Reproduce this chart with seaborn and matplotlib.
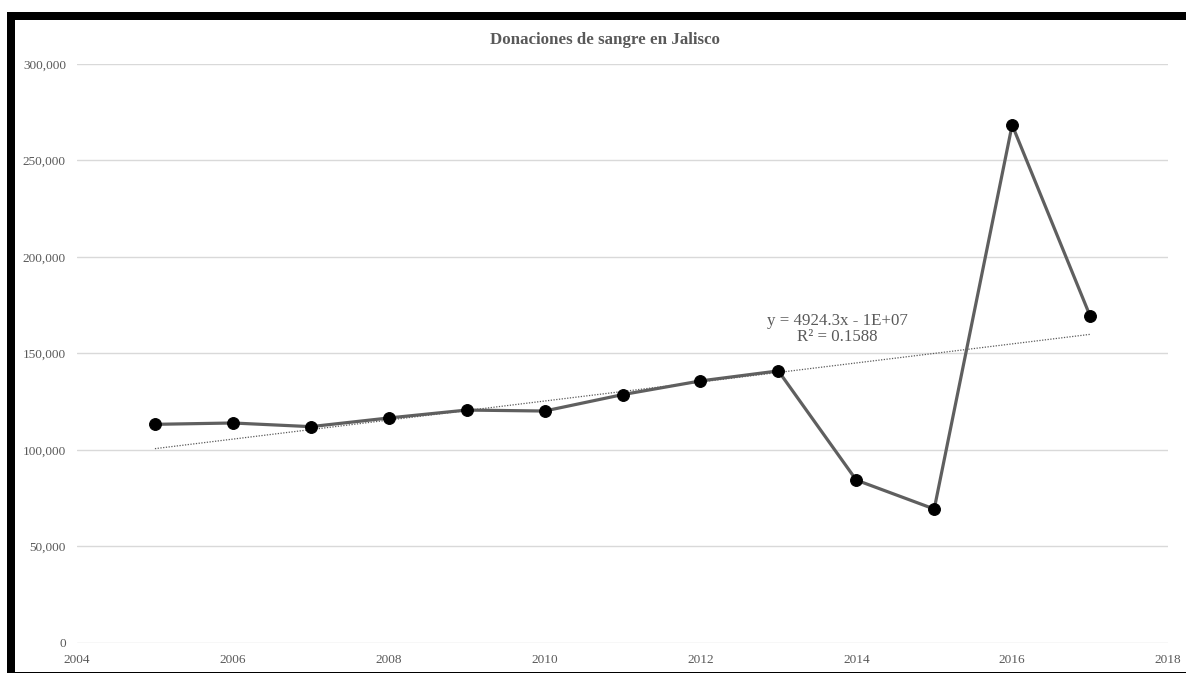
import matplotlib
matplotlib.use('Agg')
import matplotlib.pyplot as plt
import matplotlib.ticker as mticker
from matplotlib.patches import Rectangle
import pandas as pd
import seaborn as sns

# Donaciones de sangre en Jalisco, 2005-2017
years = [2005, 2006, 2007, 2008, 2009, 2010, 2011, 2012, 2013, 2014, 2015, 2016, 2017]
donations = [113200, 113900, 112000, 116500, 120600, 120100, 128600,
             135700, 140900, 84300, 69300, 268400, 169400]
x_ticks = [2004, 2006, 2008, 2010, 2012, 2014, 2016, 2018]
y_ticks = [0, 50000, 100000, 150000, 200000, 250000, 300000]

title = 'Donaciones de sangre en Jalisco'
trend_text = 'y = 4924.3x - 1E+07\nR² = 0.1588'

TEXT_GRAY = '#595959'
LINE_GRAY = '#5f5f5f'
GRID_GRAY = '#d9d9d9'

df = pd.DataFrame({'year': years, 'donations': donations})

sns.set_style('white')
plt.rcParams['font.family'] = ['Liberation Serif', 'DejaVu Serif']

W, H = 1186, 673
fig = plt.figure(figsize=(W / 100, H / 100), dpi=100)
ax = fig.add_axes([77 / W, 1 - 642.7 / H, 1091 / W, 578.7 / H])

# linear trendline (dotted)
sns.regplot(data=df, x='year', y='donations', ax=ax, scatter=False, ci=None,
            line_kws={'color': TEXT_GRAY, 'linestyle': (0, (1, 1.2)), 'linewidth': 0.9})

# main series
sns.lineplot(data=df, x='year', y='donations', ax=ax, color=LINE_GRAY, linewidth=2.3,
             marker='o', markersize=8.5, markerfacecolor='black', markeredgecolor='black')

ax.set_xlim(2004, 2018)
ax.set_ylim(0, 300000)
ax.set_xticks(x_ticks)
ax.set_yticks(y_ticks)
ax.yaxis.set_major_formatter(mticker.FuncFormatter(lambda v, p: f'{v:,.0f}'))
ax.grid(axis='y', color=GRID_GRAY, linewidth=1)
ax.grid(axis='x', visible=False)
ax.set_axisbelow(True)
for s in ax.spines.values():
    s.set_visible(False)
ax.tick_params(axis='both', length=0, labelsize=9.5, labelcolor=TEXT_GRAY)
ax.tick_params(axis='y', pad=8)
ax.tick_params(axis='x', pad=8)
ax.set_xlabel('')
ax.set_ylabel('')

ax.text(2013.76, 162600, trend_text, ha='center', va='center', fontsize=12.2,
        color=TEXT_GRAY, linespacing=1.05)

fig.text(605 / W, 1 - 40.5 / H, title, ha='center', va='center', fontsize=12.2,
         fontweight='bold', color=TEXT_GRAY)

# black frame from the screenshot
fig.patches.append(Rectangle((7 / W, 1 - 20 / H), 1 - 7 / W, 8 / H, transform=fig.transFigure,
                             facecolor='black', edgecolor='none', zorder=10))
fig.patches.append(Rectangle((7 / W, 0), 8 / W, 1 - 12 / H, transform=fig.transFigure,
                             facecolor='black', edgecolor='none', zorder=10))
fig.patches.append(Rectangle((15 / W, 0), 1 - 15 / W, 1.5 / H, transform=fig.transFigure,
                             facecolor='black', edgecolor='none', zorder=10))

fig.savefig('out.png', dpi=100)
